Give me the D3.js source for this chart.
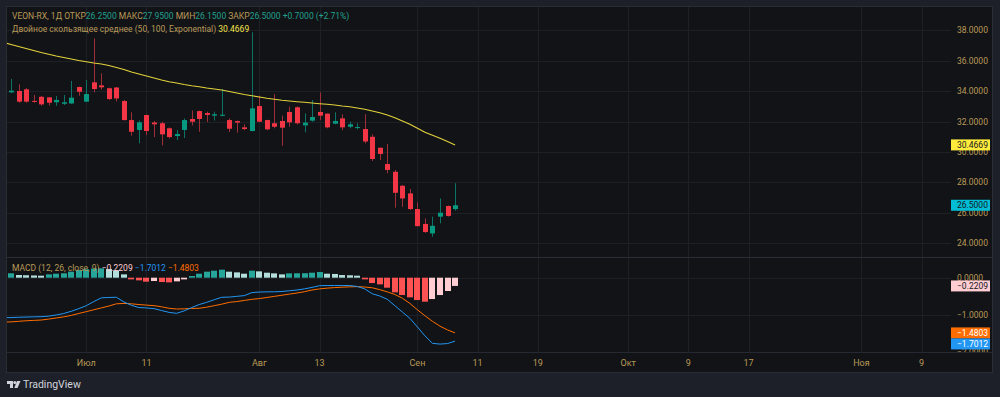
<!DOCTYPE html>
<html>
<head>
<meta charset="utf-8">
<script src="https://cdn.jsdelivr.net/npm/d3@7"></script>
<style>
  html, body { margin: 0; padding: 0; background: #1e2029; }
  svg { display: block; font-family: Roboto, "Noto Sans", sans-serif; }
</style>
</head>
<body>
<div id="chart"></div>
<script>

// daily bars, index 0 is the bar just left of the visible area
var barOpen  = [33.90, 33.92, 34.01, 34.12, 33.36, 33.63, 33.59, 33.27, 33.17, 33.19, 34.27, 33.31, 34.58, 34.38, 34.19, 34.24,
                33.35, 32.10, 31.45, 32.43, 31.94, 31.89, 31.56, 31.05, 31.45, 32.17, 32.69, 32.56, 32.39, 32.38, 32.10,
                32.03, 31.62, 31.38, 33.02, 32.10, 31.89, 32.04, 32.63, 32.94, 31.75, 32.06, 32.63, 32.52, 31.86, 32.21,
                31.66, 31.58, 31.51, 31.00, 30.28, 29.21, 28.70, 27.78, 27.28, 26.25, 25.27, 24.65, 25.75, 26.45, 26.25];
var barHigh  = [34.30, 34.80, 34.45, 34.20, 33.75, 33.68, 33.60, 33.68, 33.75, 34.67, 34.30, 34.73, 37.47, 35.17, 34.23, 34.26,
                33.42, 32.61, 32.07, 32.46, 32.04, 31.99, 31.61, 31.44, 32.21, 32.73, 32.73, 32.65, 32.65, 34.14, 32.21,
                32.07, 31.82, 37.87, 33.70, 32.12, 33.81, 32.39, 32.98, 33.00, 32.54, 33.42, 33.92, 32.53, 32.61, 32.48,
                31.99, 31.89, 32.48, 31.16, 30.29, 30.52, 28.82, 27.83, 27.57, 26.69, 25.64, 25.75, 26.95, 26.48, 27.95];
var barLow   = [33.70, 33.88, 33.24, 33.24, 33.24, 33.04, 33.05, 33.04, 33.09, 33.17, 33.70, 33.28, 33.92, 34.10, 33.42, 33.32,
                32.07, 31.07, 30.57, 31.12, 30.98, 30.43, 30.89, 30.79, 30.92, 31.75, 31.33, 31.97, 32.07, 32.35, 31.31,
                31.27, 31.44, 31.35, 31.97, 31.44, 31.56, 30.41, 31.66, 31.82, 31.29, 31.99, 32.10, 31.56, 31.82, 31.44,
                31.56, 31.49, 30.57, 29.41, 29.47, 28.60, 26.34, 26.40, 26.19, 25.10, 24.69, 24.43, 25.31, 25.75, 26.15];
var barClose = [33.95, 34.03, 33.31, 33.31, 33.30, 33.13, 33.24, 33.42, 33.27, 33.57, 33.96, 33.81, 34.14, 34.25, 33.48, 33.52,
                32.10, 31.33, 31.95, 31.38, 31.82, 31.16, 30.98, 31.18, 32.10, 31.99, 32.17, 32.44, 32.48, 32.45, 31.53,
                31.93, 31.51, 32.87, 31.99, 31.49, 31.66, 31.60, 31.95, 31.89, 31.93, 32.30, 32.39, 31.62, 32.04, 31.62,
                31.82, 31.64, 30.69, 29.54, 29.87, 28.82, 27.32, 26.95, 26.25, 25.13, 24.74, 25.15, 26.01, 25.80, 26.50];

// double EMA (50, 100)
var demaValues = [37.198, 37.066, 36.935, 36.803, 36.672, 36.540, 36.422, 36.310, 36.212, 36.113, 36.014, 35.936, 35.850,
                  35.784, 35.686, 35.554, 35.423, 35.258, 35.127, 34.995, 34.864, 34.732, 34.621, 34.535, 34.437, 34.358,
                  34.292, 34.206, 34.141, 34.075, 33.976, 33.878, 33.779, 33.700, 33.615, 33.529, 33.463, 33.398, 33.352,
                  33.306, 33.266, 33.220, 33.174, 33.135, 33.089, 33.023, 32.977, 32.892, 32.806, 32.694, 32.583, 32.431,
                  32.254, 32.037, 31.820, 31.557, 31.294, 31.097, 30.899, 30.689, 30.4669];

// MACD (12, 26, close, 9)
var macdHist = [0.10, 0.118, 0.072, 0.066, 0.060, 0.054, 0.089, 0.107, 0.118, 0.161, 0.205, 0.225, 0.245, 0.25, 0.232, 0.196,
                0.089, -0.045, -0.071, -0.107, -0.089, -0.116, -0.125, -0.098, -0.045, 0.045, 0.107, 0.161, 0.188, 0.214,
                0.161, 0.143, 0.107, 0.188, 0.17, 0.134, 0.116, 0.089, 0.116, 0.118, 0.12, 0.134, 0.152, 0.107, 0.10,
                0.071, 0.065, 0.054, -0.045, -0.143, -0.179, -0.268, -0.393, -0.465, -0.527, -0.599, -0.643, -0.572,
                -0.465, -0.357, -0.2209];
var macdLine = [-1.07, -1.07, -1.06, -1.055, -1.05, -1.045, -1.03, -1.00, -0.96, -0.90, -0.83, -0.75, -0.64, -0.54, -0.53,
                -0.525, -0.65, -0.74, -0.80, -0.81, -0.83, -0.88, -0.93, -0.955, -0.89, -0.80, -0.72, -0.66, -0.59, -0.525,
                -0.52, -0.50, -0.48, -0.40, -0.385, -0.38, -0.378, -0.37, -0.35, -0.33, -0.30, -0.26, -0.215, -0.21, -0.21,
                -0.21, -0.21, -0.235, -0.30, -0.43, -0.49, -0.58, -0.75, -0.92, -1.09, -1.32, -1.56, -1.76, -1.78, -1.765,
                -1.7012];
var signalLine = [-1.19, -1.185, -1.17, -1.155, -1.145, -1.135, -1.11, -1.08, -1.05, -1.01, -0.96, -0.91, -0.86, -0.81, -0.76,
                  -0.70, -0.69, -0.70, -0.72, -0.735, -0.75, -0.78, -0.82, -0.84, -0.835, -0.825, -0.82, -0.79, -0.75, -0.71,
                  -0.66, -0.64, -0.61, -0.58, -0.56, -0.53, -0.50, -0.47, -0.44, -0.41, -0.375, -0.33, -0.30, -0.28, -0.265,
                  -0.255, -0.245, -0.24, -0.25, -0.27, -0.32, -0.38, -0.45, -0.55, -0.69, -0.86, -1.02, -1.17, -1.30, -1.40,
                  -1.4803];

var priceTicks = [24, 26, 28, 30, 32, 34, 36, 38];
var macdTicks = [0, -1, -2];
var timeTickBars = [11, 19, 34, 42, 55, 63, 71, 83, 91, 99, 114, 122];
var timeTickLabels = ["Июл", "11", "Авг", "13", "Сен", "11", "19", "Окт", "9", "17", "Ноя", "9"];

var symbolTitle = "VEON-RX, 1Д";
var demaTitle = "Двойное скользящее среднее (50, 100, Exponential)";
var macdTitle = "MACD (12, 26, close, 9)";


ChartVis = function(_parentElement){
    this.parentElement = _parentElement;
    this.initVis();
}

ChartVis.prototype.initVis = function(){
    var vis = this;

    vis.width = 1000;
    vis.height = 397;
    vis.pane = { left: 7, right: 992, top: 7, bottom: 372 };
    vis.plotRight = 951;
    vis.mainBottom = 257;
    vis.macdTop = 258;
    vis.macdBottom = 352;

    vis.textColor = "#b99a57";
    vis.gridColor = "#1d2027";

    vis.svg = d3.select("#" + vis.parentElement).append("svg")
        .attr("width", vis.width)
        .attr("height", vis.height);

    vis.svg.append("rect")
        .attr("width", vis.width)
        .attr("height", vis.height)
        .attr("fill", "#1e2029");

    vis.svg.append("rect")
        .attr("x", vis.pane.left - 0.5)
        .attr("y", vis.pane.top - 0.5)
        .attr("width", vis.pane.right - vis.pane.left + 1)
        .attr("height", vis.pane.bottom - vis.pane.top + 1)
        .attr("fill", "#121317")
        .attr("stroke", "#2a2d36");

    var defs = vis.svg.append("defs");
    defs.append("clipPath").attr("id", "clip-main").append("rect")
        .attr("x", vis.pane.left).attr("y", vis.pane.top)
        .attr("width", vis.plotRight - vis.pane.left)
        .attr("height", vis.mainBottom - vis.pane.top);
    defs.append("clipPath").attr("id", "clip-macd").append("rect")
        .attr("x", vis.pane.left).attr("y", vis.macdTop)
        .attr("width", vis.plotRight - vis.pane.left)
        .attr("height", vis.macdBottom - vis.macdTop);
    defs.append("clipPath").attr("id", "clip-macd-axis").append("rect")
        .attr("x", vis.plotRight).attr("y", vis.macdTop)
        .attr("width", vis.pane.right - vis.plotRight)
        .attr("height", vis.macdBottom - vis.macdTop);

    // bar index -> x, visible range of bars
    vis.x = d3.scaleLinear().domain([0.465, 125.9]).range([vis.pane.left, vis.plotRight]);
    vis.yMain = d3.scaleLinear().domain([23.1, 39.53]).range([vis.mainBottom, vis.pane.top]);
    vis.yMacd = d3.scaleLinear().domain([-1.992, 0.528]).range([vis.macdBottom, vis.macdTop]);

    vis.fmt = d3.format(".4f");

    this.updateVis();
};

ChartVis.prototype.updateVis = function(){
    var vis = this;
    var n = barClose.length;
    var last = n - 1;
    var px = function(v) { return Math.round(v) + 0.5; };

    // grid
    var grid = vis.svg.append("g").attr("stroke", vis.gridColor).attr("stroke-width", 1);
    grid.selectAll("line.h").data(priceTicks).join("line")
        .attr("x1", vis.pane.left).attr("x2", vis.plotRight)
        .attr("y1", function(d) { return px(vis.yMain(d)); })
        .attr("y2", function(d) { return px(vis.yMain(d)); });
    grid.selectAll("line.m").data(macdTicks.filter(function(d) { return vis.yMacd(d) < vis.macdBottom - 1; }))
        .join("line")
        .attr("x1", vis.pane.left).attr("x2", vis.plotRight)
        .attr("y1", function(d) { return px(vis.yMacd(d)); })
        .attr("y2", function(d) { return px(vis.yMacd(d)); });
    grid.selectAll("line.v").data(timeTickBars).join("line")
        .attr("x1", function(d) { return px(vis.x(d)); })
        .attr("x2", function(d) { return px(vis.x(d)); })
        .attr("y1", vis.pane.top).attr("y2", vis.macdBottom);

    // pane separators
    vis.svg.append("line")
        .attr("x1", vis.pane.left).attr("x2", vis.pane.right)
        .attr("y1", vis.mainBottom + 0.5).attr("y2", vis.mainBottom + 0.5)
        .attr("stroke", "#2a2d36");
    vis.svg.append("line")
        .attr("x1", vis.pane.left).attr("x2", vis.pane.right)
        .attr("y1", vis.macdBottom + 0.5).attr("y2", vis.macdBottom + 0.5)
        .attr("stroke", "#262932");

    // candles
    var main = vis.svg.append("g").attr("clip-path", "url(#clip-main)");
    var idx = d3.range(n);
    var up = function(k) { return barClose[k] >= barOpen[k]; };

    main.selectAll("line.wick").data(idx).join("line")
        .attr("class", "wick")
        .attr("x1", function(k) { return px(vis.x(k)); })
        .attr("x2", function(k) { return px(vis.x(k)); })
        .attr("y1", function(k) { return vis.yMain(barHigh[k]); })
        .attr("y2", function(k) { return vis.yMain(barLow[k]); })
        .attr("stroke", function(k) { return up(k) ? "#0b7466" : "#a02e38"; });

    main.selectAll("rect.body").data(idx).join("rect")
        .attr("class", "body")
        .attr("x", function(k) { return Math.round(vis.x(k)) - 2; })
        .attr("width", 5)
        .attr("y", function(k) { return Math.min(vis.yMain(barOpen[k]), vis.yMain(barClose[k])); })
        .attr("height", function(k) { return Math.max(1, Math.abs(vis.yMain(barOpen[k]) - vis.yMain(barClose[k]))); })
        .attr("fill", function(k) { return up(k) ? "#089981" : "#f23645"; });

    main.append("path")
        .datum(demaValues)
        .attr("fill", "none")
        .attr("stroke", "#e3d23b")
        .attr("stroke-width", 1.1)
        .attr("d", d3.line()
            .x(function(d, k) { return vis.x(k); })
            .y(function(d) { return vis.yMain(d); }));

    // MACD pane
    var macd = vis.svg.append("g").attr("clip-path", "url(#clip-macd)");
    var histColor = function(k) {
        var v = macdHist[k], prev = k > 0 ? macdHist[k - 1] : v;
        if (v >= 0) return v >= prev ? "#26a69a" : "#b2dfdb";
        return v < prev ? "#ff5252" : "#ffcdd2";
    };
    macd.selectAll("rect.hist").data(idx).join("rect")
        .attr("class", "hist")
        .attr("x", function(k) { return Math.round(vis.x(k)) - 3; })
        .attr("width", 6)
        .attr("y", function(k) { return Math.min(vis.yMacd(0), vis.yMacd(macdHist[k])); })
        .attr("height", function(k) { return Math.abs(vis.yMacd(macdHist[k]) - vis.yMacd(0)); })
        .attr("fill", function(k) { return histColor(k); });

    var macdPath = d3.line()
        .x(function(d, k) { return vis.x(k); })
        .y(function(d) { return vis.yMacd(d); });
    macd.append("path").datum(signalLine)
        .attr("fill", "none").attr("stroke", "#ff6d00").attr("stroke-width", 1)
        .attr("d", macdPath);
    macd.append("path").datum(macdLine)
        .attr("fill", "none").attr("stroke", "#2196f3").attr("stroke-width", 1)
        .attr("d", macdPath);

    // price axis
    var axisX = vis.plotRight + 6;
    vis.svg.append("g").selectAll("text").data(priceTicks).join("text")
        .attr("x", axisX)
        .attr("y", function(d) { return vis.yMain(d); })
        .attr("dy", "0.35em")
        .attr("font-size", 8.5)
        .attr("fill", vis.textColor)
        .text(function(d) { return vis.fmt(d); });
    vis.svg.append("g").attr("clip-path", "url(#clip-macd-axis)")
        .selectAll("text").data(macdTicks).join("text")
        .attr("x", axisX)
        .attr("y", function(d) { return vis.yMacd(d); })
        .attr("dy", "0.35em")
        .attr("font-size", 8.5)
        .attr("fill", vis.textColor)
        .text(function(d) { return vis.fmt(d); });

    // last value tags
    var tagH = 11;
    var tags = [
        { v: demaValues[last], y: vis.yMain(demaValues[last]), bg: "#ffeb3b", fg: "#131722" },
        { v: barClose[last], y: vis.yMain(barClose[last]), bg: "#00bcd4", fg: "#131722" },
        { v: macdHist[last], y: vis.yMacd(macdHist[last]), bg: "#ffcdd2", fg: "#131722" },
        { v: signalLine[last], y: vis.yMacd(signalLine[last]), bg: "#ff6d00", fg: "#ffffff" },
        { v: macdLine[last], y: vis.yMacd(macdLine[last]), bg: "#2196f3", fg: "#ffffff" }
    ];
    tags.sort(function(a, b) { return a.y - b.y; });
    for (var i = 1; i < tags.length; i++) {
        if (tags[i].y - tags[i - 1].y < tagH) tags[i].y = tags[i - 1].y + tagH;
    }
    var tagG = vis.svg.append("g").selectAll("g").data(tags).join("g");
    tagG.append("rect")
        .attr("x", vis.plotRight)
        .attr("y", function(d) { return d.y - tagH / 2; })
        .attr("width", 39)
        .attr("height", tagH)
        .attr("fill", function(d) { return d.bg; });
    tagG.append("text")
        .attr("x", axisX)
        .attr("y", function(d) { return d.y; })
        .attr("dy", "0.35em")
        .attr("font-size", 8.5)
        .attr("fill", function(d) { return d.fg; })
        .text(function(d) { return vis.fmt(d.v); });

    // time axis
    vis.svg.append("g").selectAll("text").data(timeTickBars).join("text")
        .attr("x", function(d) { return vis.x(d); })
        .attr("y", (vis.macdBottom + vis.pane.bottom) / 2 + 0.5)
        .attr("dy", "0.35em")
        .attr("text-anchor", "middle")
        .attr("font-size", 9)
        .attr("fill", vis.textColor)
        .text(function(d, i) { return timeTickLabels[i]; });

    // legends
    var teal = "#22a08d";
    var change = barClose[last] - barClose[last - 1];
    var pct = change / barClose[last - 1] * 100;
    var sign = function(v) { return (v >= 0 ? "+" : ""); };
    var row1 = vis.svg.append("text")
        .attr("x", 12).attr("y", 16).attr("dy", "0.35em")
        .attr("font-size", 8.5)
        .attr("fill", vis.textColor);
    row1.append("tspan").text(symbolTitle + " ОТКР");
    row1.append("tspan").attr("fill", teal).text(vis.fmt(barOpen[last]));
    row1.append("tspan").text(" МАКС");
    row1.append("tspan").attr("fill", teal).text(vis.fmt(barHigh[last]));
    row1.append("tspan").text(" МИН");
    row1.append("tspan").attr("fill", teal).text(vis.fmt(barLow[last]));
    row1.append("tspan").text(" ЗАКР");
    row1.append("tspan").attr("fill", teal).text(vis.fmt(barClose[last]));
    row1.append("tspan").attr("fill", teal)
        .text(" " + sign(change) + vis.fmt(change) + " (" + sign(pct) + d3.format(".2f")(pct) + "%)");

    var row2 = vis.svg.append("text")
        .attr("x", 12).attr("y", 29).attr("dy", "0.35em")
        .attr("font-size", 8.5)
        .attr("fill", vis.textColor);
    row2.append("tspan").text(demaTitle + " ");
    row2.append("tspan").attr("fill", "#f2e24a").text(vis.fmt(demaValues[last]));

    var row3 = vis.svg.append("text")
        .attr("x", 12).attr("y", 268).attr("dy", "0.35em")
        .attr("font-size", 8.5)
        .attr("fill", vis.textColor);
    row3.append("tspan").text(macdTitle + " ");
    row3.append("tspan").attr("fill", "#ffcdd2").text(vis.fmt(macdHist[last]) + " ");
    row3.append("tspan").attr("fill", "#2196f3").text(vis.fmt(macdLine[last]) + " ");
    row3.append("tspan").attr("fill", "#ff6d00").text(vis.fmt(signalLine[last]));

    // TradingView mark
    var logo = vis.svg.append("g").attr("fill", "#d1d4dc");
    logo.append("path").attr("d", "M7,381h6v7h-3v-4h-3z");
    logo.append("circle").attr("cx", 14.8).attr("cy", 382.6).attr("r", 1.5);
    logo.append("path").attr("d", "M17,381h3.5l-3,7h-3.2z");
    logo.append("text")
        .attr("x", 23).attr("y", 384.5).attr("dy", "0.35em")
        .attr("font-size", 10.5)
        .attr("fill", "#d1d4dc")
        .text("TradingView");
};

var chartVis = new ChartVis("chart");
</script>
</body>
</html>
